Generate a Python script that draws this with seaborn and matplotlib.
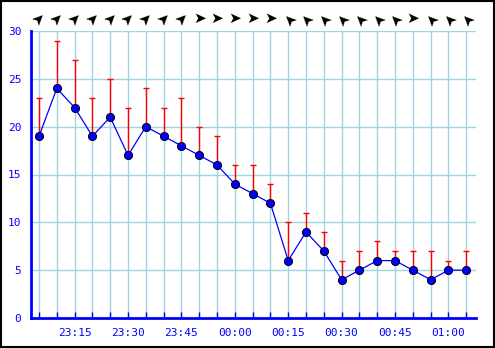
import matplotlib
matplotlib.use("Agg")
import matplotlib.pyplot as plt
import seaborn as sns
import pandas as pd
from matplotlib.patches import Rectangle
import matplotlib.transforms as mtransforms

# ---- data ----
times = ["23:05", "23:10", "23:15", "23:20", "23:25", "23:30", "23:35", "23:40",
         "23:45", "23:50", "23:55", "00:00", "00:05", "00:10", "00:15", "00:20",
         "00:25", "00:30", "00:35", "00:40", "00:45", "00:50", "00:55", "01:00", "01:05"]
speed = [19, 24, 22, 19, 21, 17, 20, 19, 18, 17, 16, 14, 13, 12, 6, 9, 7, 4, 5, 6, 6, 5, 4, 5, 5]
gust = [23, 29, 27, 23, 25, 22, 24, 22, 23, 20, 19, 16, 16, 14, 10, 11, 9, 6, 7, 8, 7, 7, 7, 6, 7]
direction = ["SW", "SW", "SW", "SW", "SW", "SW", "SW", "SW", "SW", "W", "W", "W", "W", "W",
             "SE", "SE", "SE", "SE", "SE", "SE", "SE", "W", "SE", "SE", "SE"]
tick_labels = ["23:15", "23:30", "23:45", "00:00", "00:15", "00:30", "00:45", "01:00"]

df = pd.DataFrame({"i": range(len(times)), "time": times, "speed": speed, "gust": gust,
                   "dir": direction})

sns.set_theme(style="white")
plt.rcParams["font.family"] = ["DejaVu Sans Mono", "DejaVu Sans"]

BLUE = "#0000ff"
GRID = "#a0d4e0"

fig = plt.figure(figsize=(4.95, 3.48), dpi=100)
fig.patch.set_facecolor("white")
ax = fig.add_axes([31 / 495, 30 / 348, 445 / 495, 287 / 348])
ax.set_facecolor("white")

# grid: vertical at every sample, horizontal every 5
ax.set_xticks(df["i"])
ax.set_yticks(range(0, 31, 5))
ax.grid(True, color=GRID, linewidth=1.0)
ax.set_axisbelow(True)

# gust bars
ax.vlines(df["i"], df["speed"], df["gust"], color="red", linewidth=1.0, zorder=2)
ax.scatter(df["i"], df["gust"], marker="_", s=22, color="red", linewidths=1.0, zorder=2)

# speed line + points
sns.lineplot(data=df, x="i", y="speed", color=BLUE, linewidth=0.9, ax=ax, zorder=3)
sns.scatterplot(data=df, x="i", y="speed", color=BLUE, edgecolor="black", linewidth=0.7,
                s=34, ax=ax, zorder=4)

ax.set_xlim(-0.45, 24.55)
ax.set_ylim(0, 30)
ax.set_xlabel("")
ax.set_ylabel("")

ax.set_xticklabels([t if t in tick_labels else "" for t in times])

for s in ["top", "right"]:
    ax.spines[s].set_visible(False)
for s in ["left", "bottom"]:
    ax.spines[s].set_color(BLUE)
    ax.spines[s].set_linewidth(2.0)

ax.tick_params(axis="x", direction="in", length=4, width=1.0, color=BLUE,
               labelcolor=BLUE, labelsize=8, pad=7, bottom=True)
ax.tick_params(axis="y", length=0, labelcolor=BLUE, labelsize=8, pad=7, left=True)

# wind direction arrows above the plot (arrowhead glyph pointing along the flow)
angles = {"SW": 45, "W": 0, "SE": 135}
trans = mtransforms.blended_transform_factory(ax.transData, ax.transAxes)
for i, d in zip(df["i"], df["dir"]):
    ax.text(i, 1.045, "\u27a4", transform=trans, ha="center", va="center",
            rotation=angles[d], rotation_mode="anchor", fontsize=11, color="black",
            family="DejaVu Sans", clip_on=False)

# figure border
fig.patches.append(Rectangle((0.5 / 495, 1 / 348), 493 / 495, 346.5 / 348,
                             transform=fig.transFigure, fill=False,
                             edgecolor="black", linewidth=1.5))

fig.savefig("out.png", dpi=100, facecolor="white")
